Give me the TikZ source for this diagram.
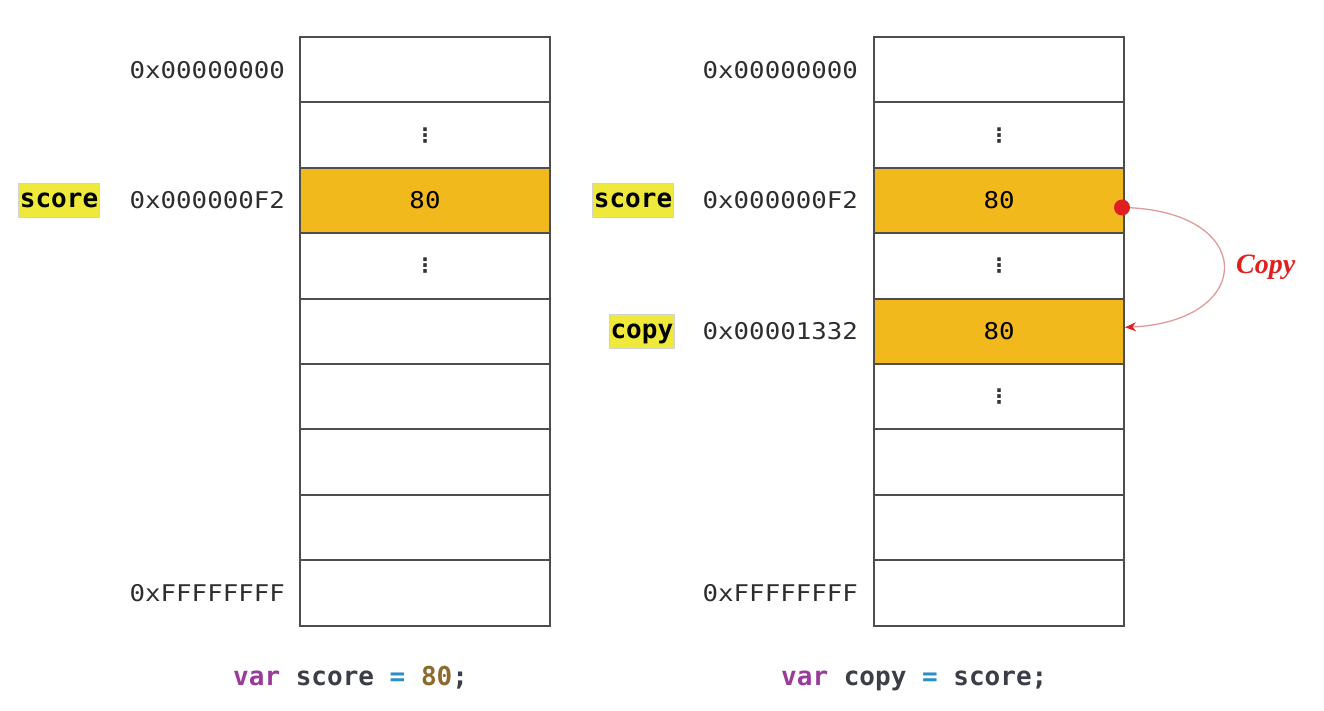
\documentclass[tikz,border=0pt]{standalone}
\usepackage{fontspec}
\setmainfont{Liberation Serif}
\newfontfamily\mono[FakeStretch=1.12]{DejaVu Sans Mono}
\newfontfamily\monob{DejaVu Sans Mono Bold}
\newfontfamily\dejavu{DejaVu Sans}
\usetikzlibrary{arrows.meta}
\definecolor{cellfill}{HTML}{F2B91C}
\definecolor{cellline}{HTML}{4D4D4D}
\definecolor{hilite}{HTML}{EEE93A}
\definecolor{kw}{HTML}{9A3A9A}
\definecolor{idn}{HTML}{3B3E46}
\definecolor{op}{HTML}{2B8FC5}
\definecolor{num}{HTML}{8C6A2C}
\definecolor{addrcol}{HTML}{2E2E2E}
\definecolor{copyred}{HTML}{E02020}
\definecolor{copyline}{HTML}{E09A9A}
\begin{document}
\begin{tikzpicture}[x=1pt,y=-1pt,
  cell/.style={draw=cellline, line width=2pt, fill=white, minimum width=250pt,
    minimum height=65.4pt, inner sep=0pt, outer sep=0pt,
    font=\mono\fontsize{23}{23}\selectfont, text=black},
  hot/.style={fill=cellfill},
  addr/.style={anchor=east, inner sep=0pt, text=addrcol, font=\mono\fontsize{23}{23}\selectfont},
  varname/.style={anchor=east, fill=hilite, draw=gray!35, line width=0.6pt, inner xsep=1.5pt,
    inner ysep=10pt, text height=14.2pt, text depth=0pt, text=black,
    font=\monob\fontsize{26}{26}\selectfont},
  codeline/.style={anchor=base west, inner sep=0pt, font=\monob\fontsize{26}{26}\selectfont},
  vdots/.style={font=\dejavu\bfseries\fontsize{20}{20}\selectfont, text=black!80, inner sep=0pt},
  dotnode/.style={circle, fill=copyred, inner sep=0pt, minimum size=16pt},
  copylbl/.style={anchor=base west, inner sep=0pt, text=copyred, font=\bfseries\itshape\fontsize{28}{28}\selectfont}
]
\useasboundingbox (0,0) rectangle (1324,711);

% left column
\foreach \i in {0,...,8} {
  \node[cell] (L\i) at (425, 37+65.4*\i+32.7) {};
}
\node[cell,hot] (L2) at (425, 37+65.4*2+32.7) {80};
\node[vdots] (L1d) at (L1) {⋮};
\node[vdots] (L3d) at (L3) {⋮};

% right column
\foreach \i in {0,...,8} {
  \node[cell] (R\i) at (999, 37+65.4*\i+32.7) {};
}
\node[cell,hot] (R2) at (999, 37+65.4*2+32.7) {80};
\node[cell,hot] (R4) at (999, 37+65.4*4+32.7) {80};
\node[vdots] (R1d) at (R1) {⋮};
\node[vdots] (R3d) at (R3) {⋮};
\node[vdots] (R5d) at (R5) {⋮};

% addresses left
\node[addr] (la0) at (285, 69.7) {0x00000000};
\node[addr] (la2) at (285, 200.5) {0x000000F2};
\node[addr] (la8) at (285, 593.3) {0xFFFFFFFF};
% addresses right
\node[addr] (ra0) at (858, 69.7) {0x00000000};
\node[addr] (ra2) at (858, 200.5) {0x000000F2};
\node[addr] (ra4) at (858, 331.3) {0x00001332};
\node[addr] (ra8) at (858, 593.3) {0xFFFFFFFF};

% variable names
\node[varname] (nL) at (100, 200.5) {score};
\node[varname] (nR) at (674, 200.5) {score};
\node[varname] (nC) at (675, 331.3) {copy};

% code lines
\node[codeline] (codeL) at (233, 685.5) {\textcolor{kw}{var} \textcolor{idn}{score} \textcolor{op}{=} \textcolor{num}{80}\textcolor{idn}{;}};
\node[codeline] (codeR) at (781, 685.5) {\textcolor{kw}{var} \textcolor{idn}{copy} \textcolor{op}{=} \textcolor{idn}{score;}};

% copy arrow
\coordinate (srcpt) at ([xshift=-2pt,yshift=-7pt]R2.east);
\coordinate (dst) at ([xshift=1pt,yshift=4pt]R4.east);
\draw[copyline, line width=1.3pt, -{Stealth[length=11pt,width=9pt,color=copyred]}]
  (srcpt) .. controls +(135,2) and +(132,-6) .. (dst);
\node[dotnode] (src) at (srcpt) {};
\node[copylbl] (cp) at (1236, 273) {Copy};
\end{tikzpicture}
\end{document}
